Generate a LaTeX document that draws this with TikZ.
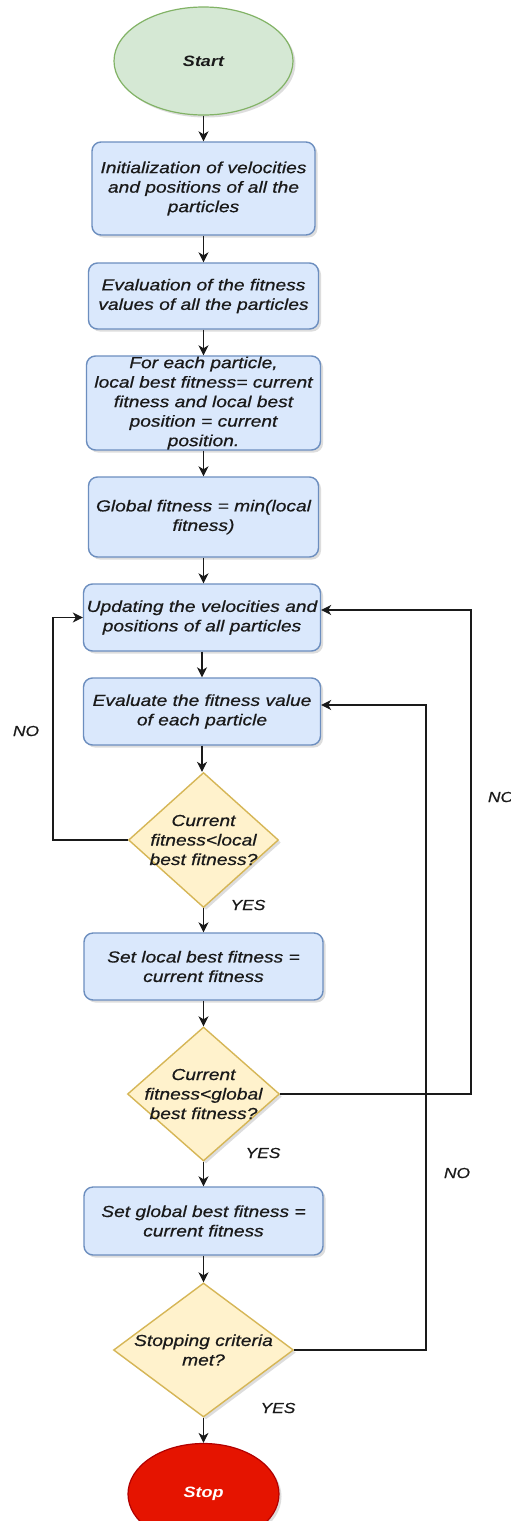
\documentclass[tikz,border=0pt]{standalone}
\usepackage{fontspec}
\setmainfont{Liberation Sans}[FakeStretch=1.2, ItalicFeatures={FakeBold=0.6}]
\usetikzlibrary{shapes.geometric,arrows.meta,shadows}

\definecolor{ink}{HTML}{1A1A1A}
\definecolor{termfill}{HTML}{D5E8D4}
\definecolor{termline}{HTML}{82B366}
\definecolor{procfill}{HTML}{DAE8FC}
\definecolor{procline}{HTML}{6C8EBF}
\definecolor{decfill}{HTML}{FFF2CC}
\definecolor{decline}{HTML}{D6B656}
\definecolor{stopfill}{HTML}{E51400}
\definecolor{stopline}{HTML}{B20000}

\tikzset{
  softshadow/.style={drop shadow={shadow xshift=2.5pt, shadow yshift=-2.5pt, opacity=0.22, fill=black!60}},
  txt/.style={font=\itshape\fontsize{16}{19.5}\selectfont, text=ink, align=center},
  proc/.style={txt, rectangle, rounded corners=9pt, draw=procline, fill=procfill,
    line width=1.4pt, inner sep=0pt, softshadow},
  decision/.style={diamond, draw=decline, fill=decfill, line width=1.4pt,
    inner sep=0pt, softshadow},
  dtext/.style={txt},
  terminal/.style={ellipse, line width=1.2pt, inner sep=0pt,
    font=\bfseries\itshape\fontsize{15}{18}\selectfont, softshadow},
  tip/.style={-{Stealth[length=10pt,width=10pt,inset=3pt]}},
  conn/.style={draw=ink, line width=1.2pt, tip},
  loopline/.style={draw=ink, line width=1.2pt, tip},
  lab/.style={font=\itshape\fontsize{14.5}{17}\selectfont, text=ink}
}

\begin{document}
\begin{tikzpicture}[x=1pt, y=-1pt]
  \path[use as bounding box, clip] (0,0) rectangle (511,1521);
  \fill[white] (0,0) rectangle (511,1521);

  % main column
  \node[terminal, draw=termline, fill=termfill, text=ink,
        minimum width=179pt, minimum height=108pt] (start) at (203.5,61) {Start};
  \node[proc, minimum width=223pt, minimum height=93pt] (b1) at (203.5,188.5)
    {Initialization of velocities\\and positions of all the\\particles};
  \node[proc, minimum width=230pt, minimum height=66pt] (b2) at (203.5,296)
    {Evaluation of the fitness\\values of all the particles};
  \node[proc, minimum width=234pt, minimum height=94pt] (b3) at (203.5,403)
    {For each particle,\\local best fitness= current\\fitness and local best\\position = current\\position.};
  \node[proc, minimum width=230pt, minimum height=80pt] (b4) at (203.5,517)
    {Global fitness = min(local\\fitness)};
  \node[proc, minimum width=237pt, minimum height=67pt] (b5) at (202,617.5)
    {Updating the velocities and\\positions of all particles};
  \node[proc, minimum width=237pt, minimum height=67pt] (b6) at (202,711.5)
    {Evaluate the fitness value\\of each particle};
  \node[decision, minimum width=150pt, minimum height=135pt,
        label={[dtext]center:{Current\\fitness<local\\best fitness?}}] (d1) at (203.5,840) {};
  \node[proc, minimum width=239pt, minimum height=67pt] (b7) at (203.5,966.5)
    {Set local best fitness =\\current fitness};
  \node[decision, minimum width=152pt, minimum height=134pt,
        label={[dtext]center:{Current\\fitness<global\\best fitness?}}] (d2) at (203.5,1094) {};
  \node[proc, minimum width=239pt, minimum height=68pt] (b8) at (203.5,1221)
    {Set global best fitness =\\current fitness};
  \node[decision, minimum width=180pt, minimum height=134pt,
        label={[dtext]center:{Stopping criteria\\met?}}] (d3) at (203.5,1350) {};
  \node[terminal, draw=stopline, fill=stopfill, text=white,
        minimum width=151pt, minimum height=101pt] (stop) at (203.5,1494) {Stop};

  % straight flow
  \draw[conn] (start) -- (b1);
  \draw[conn] (b1) -- (b2);
  \draw[conn] (b2) -- (b3);
  \draw[conn] (b3) -- (b4);
  \draw[conn] (b4.south) -- (b4.south |- b5.north);
  \draw[conn] (b5.south) -- (b5.south |- b6.north);
  \draw[conn] (b6.south) -- (b6.south |- d1.north);
  \draw[conn] (d1) -- (b7);
  \draw[conn] (b7) -- (d2);
  \draw[conn] (d2) -- (b8);
  \draw[conn] (b8) -- (d3);
  \draw[conn] (d3) -- (stop);

  % feedback loops
  \coordinate (c1) at (53,0);
  \coordinate (c2) at (471,0);
  \coordinate (c3) at (426,0);
  \draw[loopline] (d1.west) -- (d1.west -| c1) |- (b5.west);
  \draw[loopline] (d2.east) -- (d2.east -| c2) |- ([yshift=7.5pt]b5.east);
  \draw[loopline] (d3.east) -- (d3.east -| c3) |- ([yshift=6.5pt]b6.east);

  % branch labels
  \node[lab] (no1) at (26,731) {NO};
  \node[lab] (no2) at (501,797) {NO};
  \node[lab] (no3) at (457,1173) {NO};
  \node[lab] (yes1) at (248,905) {YES};
  \node[lab] (yes2) at (263,1153) {YES};
  \node[lab] (yes3) at (278,1408) {YES};
\end{tikzpicture}
\end{document}
